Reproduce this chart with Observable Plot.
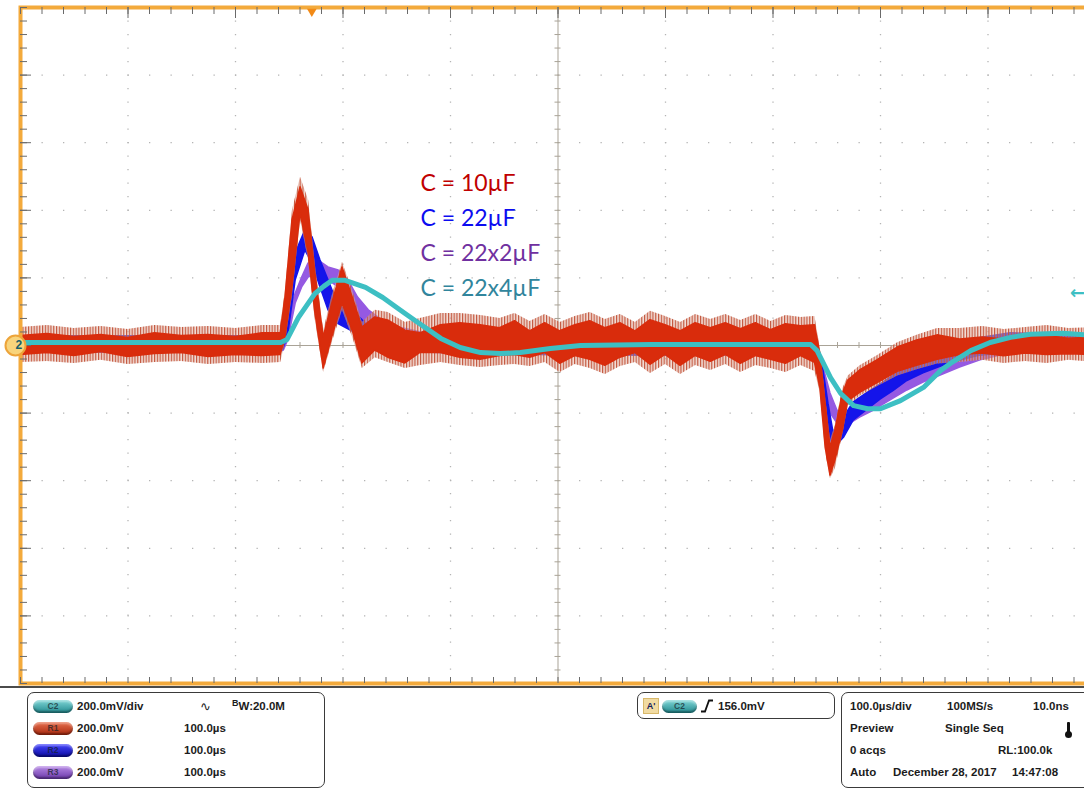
<!DOCTYPE html>
<html><head><meta charset="utf-8">
<script src="https://cdn.jsdelivr.net/npm/d3@7"></script>
<script src="https://cdn.jsdelivr.net/npm/@observablehq/plot@0.6"></script>
<style>
html,body{margin:0;padding:0;background:#fff;overflow:hidden}
#wrap{position:relative;width:1084px;height:789px;overflow:hidden;background:#fff}
#chart{position:absolute;left:0;top:0;width:1084px;height:688px;overflow:hidden}
#status{position:absolute;left:0;top:686px;width:1084px;height:103px;font:bold 11.5px "Liberation Sans",Arial,sans-serif;color:#1c1c1c}
</style></head>
<body>
<div id="wrap">
  <div id="chart"></div>
  <div id="status"></div>
</div>
<script>
// ---------------- DATA (time in µs, voltage in mV) ----------------
// C2 : C = 22x4µF (live channel, cyan)
const cyanTime = [0, 242, 248, 258.6, 274, 282, 290, 302, 321, 337, 353.5, 367, 391, 409, 428, 446.5, 465, 493, 521, 586, 735, 741, 753.5, 763, 775, 788, 800, 818.6, 840, 856, 865, 884, 902, 921, 939.5, 970, 1000];
const cyanMv   = [9, 9, 18, 83, 154, 175, 193, 193, 172, 142, 104, 74, 21, -6, -21, -24, -21, -9, 0, 3, 3, -15, -95, -142, -178, -187, -187, -163, -124, -74, -53, -15, 9, 24, 33, 36, 30];

// R1 : C = 10µF (red) — ripple envelope: outer (faint) and inner (dense)
const redTime    = [0, 25, 50, 75, 100, 125, 150, 175, 200, 225, 242,
                    246.5, 253, 260.5, 268, 274, 282, 290, 299.5, 309, 318, 330, 342, 358,
                    372, 391, 409, 428, 446, 460, 474, 488, 502, 516, 530, 544, 558, 572, 586, 600, 614, 628, 642, 656, 670, 684, 698, 712, 726, 739,
                    744, 749, 753.5, 758, 765, 770, 781, 797, 816, 834, 853,
                    874, 895, 915, 935, 955, 975, 1000];
const redOuterHi = [53, 59, 50, 56, 47, 59, 53, 56, 50, 59, 59,
                    163, 400, 498, 430, 246, 44, 148, 246, 163, 68, 104, 98, 68,
                    80, 95, 95, 89, 80, 95, 71, 92, 68, 86, 98, 77, 92, 68, 101, 86, 68, 92, 77, 92, 74, 92, 71, 89, 83, 86,
                    -9, -157, -281, -237, -127, -90, -60, -30, 8, 30, 50,
                    50, 56, 47, 53, 59, 50, 53];
const redOuterLo = [-50, -47, -53, -44, -56, -50, -47, -56, -50, -53, -50,
                    9, 148, 370, 252, 80, -80, 9, 104, 24, -68, -36, -50, -68,
                    -59, -50, -59, -65, -59, -56, -62, -50, -80, -56, -68, -86, -62, -50, -83, -56, -86, -59, -74, -56, -80, -59, -68, -80, -59, -77,
                    -139, -317, -394, -364, -262, -178, -150, -122, -90, -72, -55,
                    -50, -44, -53, -47, -53, -44, -50];
const redInnerHi = [28, 34, 25, 31, 22, 36, 28, 31, 25, 36, 36,
                    142, 370, 468, 400, 222, 24, 124, 231, 142, 53, 83, 74, 44,
                    36, 60, 66, 60, 51, 72, 42, 66, 42, 60, 72, 51, 66, 42, 75, 60, 42, 66, 51, 66, 48, 66, 45, 63, 57, 60,
                    -24, -172, -302, -252, -142, -104, -74, -44, -6, 15, 30,
                    18, 24, 18, 26, 28, 20, 24];
const redInnerLo = [-28, -22, -31, -19, -34, -25, -22, -34, -28, -31, -28,
                    24, 172, 391, 273, 104, -68, 24, 124, 44, -53, -15, -36, -53,
                    -22, -22, -36, -42, -31, -28, -36, -22, -54, -31, -42, -60, -36, -22, -57, -28, -60, -31, -48, -28, -54, -31, -42, -54, -31, -51,
                    -124, -302, -385, -341, -252, -165, -140, -112, -78, -60, -42,
                    -28, -24, -32, -24, -28, -26, -28];

// R2 : C = 22µF (blue)
const blueTime = [0, 240, 244, 249, 256, 265, 271.6, 279, 286.5, 295, 302, 312, 321, 330, 349, 372, 450, 600, 739.5, 742, 747, 751.6, 756, 761, 766, 775, 788, 800, 812, 825, 840, 865, 893, 921, 1000];
const blueHi   = [27, 27, 44, 133, 273, 341, 320, 252, 193, 124, 104, 95, 65, 53, 44, 36, 30, 27, 30, 0, -74, -172, -252, -252, -213, -168, -140, -115, -90, -65, -42, -5, 22, 36, 33];
const blueLo   = [-21, -21, -15, 30, 193, 281, 243, 172, 104, 65, 53, 36, 6, 6, -9, -21, -27, -30, -27, -44, -172, -252, -302, -290, -273, -222, -190, -160, -135, -105, -82, -52, -30, -21, -21];

// R3 : C = 22x2µF (purple)
const purpleTime = [0, 240, 245, 249, 256, 262, 268, 277, 286.5, 296, 305, 314, 324, 337, 352, 372, 450, 600, 739.5, 742, 747, 753.5, 760, 765, 772, 781, 793.5, 809, 825, 840, 856, 874, 893, 912, 939, 1000];
const purpleHi   = [24, 24, 30, 89, 154, 201, 243, 252, 231, 222, 193, 142, 104, 74, 53, 39, 30, 27, 30, 0, -65, -142, -193, -201, -193, -172, -148, -118, -89, -65, -44, -21, 0, 15, 27, 30];
const purpleLo   = [-21, -21, -15, 15, 124, 172, 201, 213, 193, 172, 124, 74, 44, 15, 6, -15, -27, -30, -27, -39, -124, -201, -231, -237, -231, -213, -193, -163, -133, -110, -89, -65, -44, -30, -21, -15];

// Annotations
const legendLabels = ["C = 10µF", "C = 22µF", "C = 22x2µF", "C = 22x4µF"];
const legendColors = ["#c00000", "#0c0cf0", "#7030a0", "#31859c"];
const triggerTime = 271;    // µs, trigger position marker
const triggerLevel = 156;   // mV
const channelGround = 0;    // mV

// Graticule: 10 div × 100 µs, 10 div × 200 mV, 5 minor per div
const majorTimes = d3.range(100, 1000, 100);
const minorTimes = d3.range(0, 1001, 20);
const majorVolts = d3.range(-800, 801, 200);
const minorVolts = d3.range(-1000, 1001, 40);

// ---------------- CHART ----------------
const W = 1084, H = 688, mL = 20, mR = -11, mT = 7, mB = 5;
const innerW = W - mL - mR, innerH = H - mT - mB;

const red = redTime.map((t, i) => ({t, oh: redOuterHi[i], ol: redOuterLo[i], ih: redInnerHi[i], il: redInnerLo[i]}));
const blue = blueTime.map((t, i) => ({t, hi: blueHi[i], lo: blueLo[i]}));
const purple = purpleTime.map((t, i) => ({t, hi: purpleHi[i], lo: purpleLo[i]}));
const cyan = cyanTime.map((t, i) => ({t, v: cyanMv[i]}));

const gridColor = "#b4b4b4", tickColor = "#6a6a6a";

const chart = Plot.plot({
  width: W, height: H,
  marginLeft: mL, marginRight: mR, marginTop: mT, marginBottom: mB,
  x: {domain: [0, 1000], axis: null},
  y: {domain: [-1000, 1000], axis: null},
  color: {type: "identity"},
  style: {background: "#fff"},
  marks: [
    // dotted major graticule
    Plot.ruleX(majorTimes.filter(t => t !== 500), {x: d => d, stroke: gridColor, strokeWidth: 1.3, strokeDasharray: "1.3,12.2"}),
    Plot.ruleY(majorVolts.filter(v => v !== 0), {y: d => d, stroke: gridColor, strokeWidth: 1.3, strokeDasharray: "1.3,20.2"}),
    // centre crosshair with minor ticks
    Plot.ruleX([500], {x: d => d, stroke: "#a9a397", strokeWidth: 1}),
    Plot.ruleY([0], {y: d => d, stroke: "#a9a397", strokeWidth: 1}),
    Plot.ruleX(minorTimes, {x: d => d, y1: () => 0, y2: () => 0, insetTop: -3, insetBottom: -3, stroke: "#a9a397"}),
    Plot.ruleY(minorVolts, {y: d => d, x1: () => 500, x2: () => 500, insetLeft: -3, insetRight: -3, stroke: "#a9a397"}),
    // traces
    Plot.areaY(purple, {x: "t", y1: "lo", y2: "hi", fill: "#9559e2", stroke: "#9559e2", strokeWidth: 1.5, clip: true}),
    Plot.areaY(blue, {x: "t", y1: "lo", y2: "hi", fill: "#1414ea", stroke: "#1414ea", strokeWidth: 1.5, clip: true}),
    Plot.areaY(red, {x: "t", y1: "ol", y2: "oh", fill: "#e6bcb0", fillOpacity: 0.5, clip: true}),
    Plot.areaY(red, {x: "t", y1: "ol", y2: "oh", fill: "url(#redHatch)", clip: true}),
    Plot.areaY(red, {x: "t", y1: "il", y2: "ih", fill: "#d92c0c", stroke: "#d92c0c", strokeWidth: 1.5, clip: true}),
    Plot.line(cyan, {x: "t", y: "v", stroke: "#3dbfc3", strokeWidth: 5, clip: true}),
    // orange frame
    Plot.frame({stroke: "#f3aa3c", strokeWidth: 4}),
    // border ticks
    Plot.ruleX(minorTimes, {x: d => d, insetBottom: innerH - 7, stroke: tickColor}),
    Plot.ruleX(majorTimes, {x: d => d, insetBottom: innerH - 11, stroke: tickColor}),
    Plot.ruleX(minorTimes, {x: d => d, insetTop: innerH - 6, stroke: tickColor}),
    Plot.ruleY(minorVolts, {y: d => d, insetRight: innerW - 7, stroke: tickColor}),
    Plot.ruleY(majorVolts, {y: d => d, insetRight: innerW - 11, stroke: tickColor}),
    // legend
    Plot.text(legendLabels, {
      x: () => 372, y: (d, i) => 480 - i * 104, text: d => d,
      fill: (d, i) => legendColors[i], textAnchor: "start", lineAnchor: "middle",
      fontFamily: "Lato", fontSize: 23
    }),
    // channel ground marker "2"
    Plot.dot([channelGround], {y: d => d, frameAnchor: "left", dx: -5, r: 10, fill: "#f8d47c", stroke: "#eda43a", strokeWidth: 2}),
    Plot.text([channelGround], {y: d => d, frameAnchor: "left", dx: -5, text: () => "2", fill: "#17606a", fontWeight: "bold", fontSize: 12, fontFamily: "Liberation Sans"}),
    // trigger position marker
    Plot.dot([triggerTime], {x: d => d, frameAnchor: "top", dy: 4, symbol: "triangle", rotate: 180, r: 3.6, fill: "#f28a16"}),
    // trigger level arrow
    Plot.text([triggerLevel], {y: d => d, frameAnchor: "right", dx: -18, text: () => "←", textAnchor: "middle", fill: "#3dbfc3", fontSize: 18, fontWeight: "bold", fontFamily: "DejaVu Sans"})
  ]
});

// hatch pattern for the faint ripple of R1
const defs = d3.select(chart).insert("defs", ":first-child");
const pat = defs.append("pattern").attr("id", "redHatch").attr("patternUnits", "userSpaceOnUse").attr("width", 2.8).attr("height", 10);
pat.append("rect").attr("width", 1.2).attr("height", 10).attr("fill", "#c4583f");

document.getElementById("chart").appendChild(chart);

// ---------------- STATUS BAR ----------------
const st = document.getElementById("status");
const Y0 = 686;
function el(html, css) { const d = document.createElement("div"); d.innerHTML = html; d.style.cssText = css; st.appendChild(d); return d; }
function txt(s, x, yc, extra = "") { el(s, `position:absolute;left:${x}px;top:${yc - Y0 - 7}px;line-height:14px;white-space:nowrap;${extra}`); }
function pill(label, x, yc, w, grad) { el(label, `position:absolute;left:${x}px;top:${yc - Y0 - 6.5}px;width:${w}px;height:13px;border-radius:7px;background:${grad};font:bold 8.5px 'Liberation Sans',Arial,sans-serif;color:rgba(20,30,40,0.7);text-align:center;line-height:13px;box-shadow:inset 0 -2px 2px rgba(0,0,0,0.35),inset 0 2px 2px rgba(255,255,255,0.35)`); }

el("", "position:absolute;left:0;top:0;width:1084px;height:2px;background:#4b4b4b");
el("", "position:absolute;left:27px;top:6px;width:298px;height:96px;border:1px solid #3a3a3a;border-radius:7px;box-sizing:border-box");
el("", "position:absolute;left:637px;top:6px;width:198px;height:27px;border:1px solid #3a3a3a;border-radius:7px;box-sizing:border-box");
el("", "position:absolute;left:841px;top:6px;width:260px;height:96px;border:1px solid #3a3a3a;border-radius:7px;box-sizing:border-box");

const rows = [706, 728, 750, 772];
const chName = ["C2", "R1", "R2", "R3"];
const chGrad = ["linear-gradient(#7fd6d6,#22898e)", "linear-gradient(#e8704e,#a8280e)", "linear-gradient(#4646ff,#0a0a9e)", "linear-gradient(#b88ae6,#6a38aa)"];
const chScale = ["200.0mV/div", "200.0mV", "200.0mV", "200.0mV"];
rows.forEach((y, i) => {
  pill(chName[i], 33, y, 40, chGrad[i]);
  txt(chScale[i], 77, y);
  if (i > 0) txt("100.0µs", 184, y);
});
txt("∿", 200, 706, "font:13px 'DejaVu Sans';");
txt("<span style='font-size:9px;position:relative;top:-4px'>B</span>W:20.0M", 232, 706);

// trigger panel
el("A'", `position:absolute;left:643px;top:${706 - Y0 - 8}px;width:16px;height:16px;background:#f1dba2;border:1px solid #d8b86a;box-sizing:border-box;font:bold 9px 'Liberation Sans';color:#14205a;text-align:center;line-height:15px`);
pill("C2", 662, 706, 35, chGrad[0]);
el(`<svg width="14" height="14"><path d="M1,12.5 L5,12.5 L9,1.5 L13,1.5" fill="none" stroke="#111" stroke-width="1.8"/></svg>`, `position:absolute;left:700px;top:${706 - Y0 - 7}px;width:14px;height:14px`);
txt("156.0mV", 718, 706);

// acquisition panel
txt("100.0µs/div", 850, 706); txt("100MS/s", 947, 706); txt("10.0ns", 1033, 706);
txt("Preview", 850, 728); txt("Single Seq", 945, 728);
el("", `position:absolute;left:1067px;top:${722 - Y0}px;width:3px;height:11px;background:#111;border-radius:1px`);
el("", `position:absolute;left:1065px;top:${731 - Y0}px;width:7px;height:7px;background:#111;border-radius:50%`);
txt("0 acqs", 850, 750); txt("RL:100.0k", 998, 750);
txt("Auto", 850, 772); txt("December 28, 2017", 893, 772); txt("14:47:08", 1012, 772);
</script>
</body></html>
